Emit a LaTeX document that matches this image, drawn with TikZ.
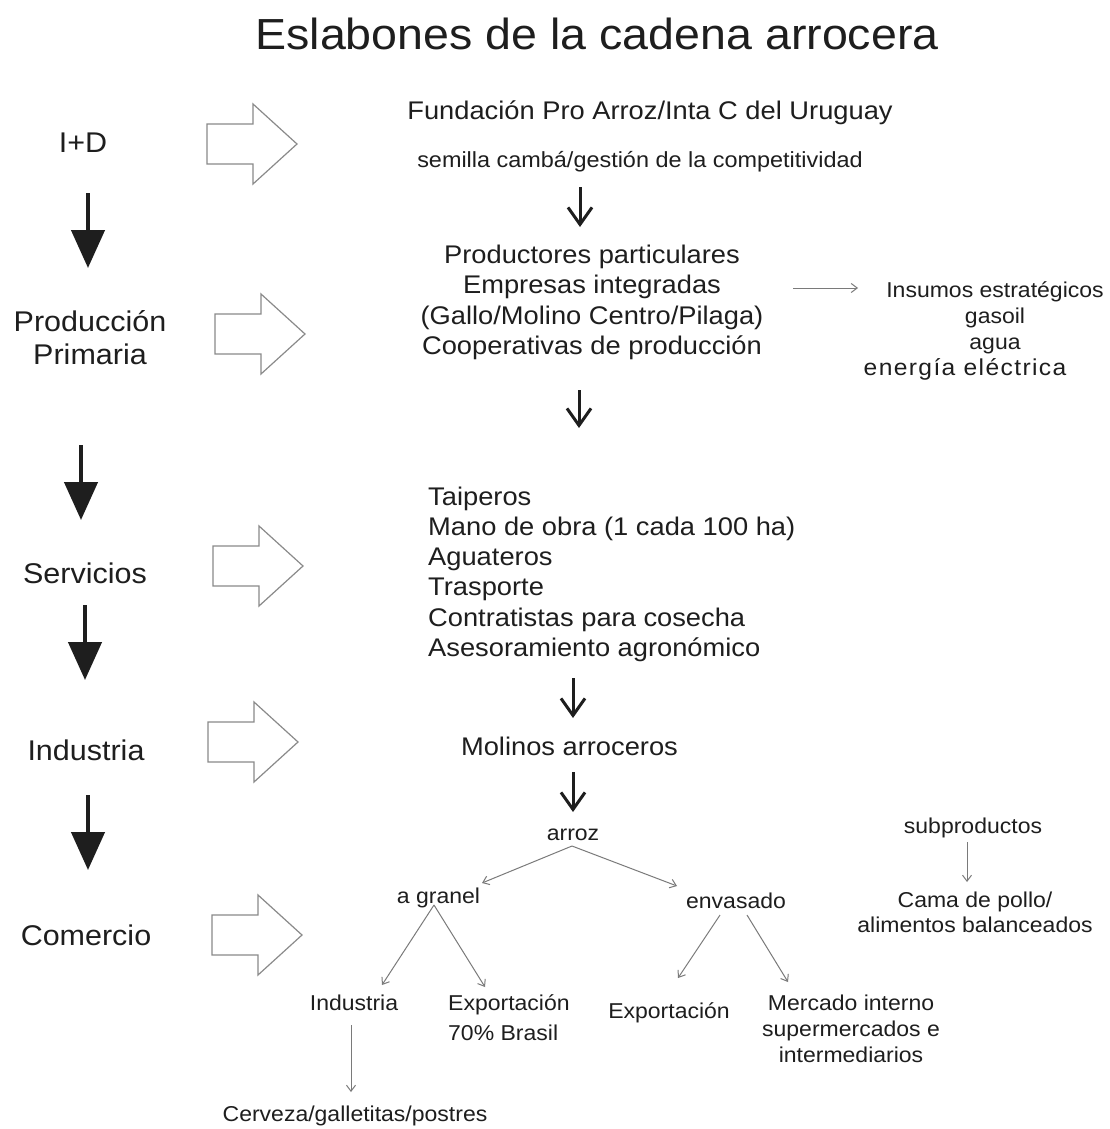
\documentclass[tikz,border=0pt]{standalone}
\usepackage{fontspec}
\setmainfont{Liberation Sans}[FakeStretch=1.07]
\usetikzlibrary{arrows.meta}
\definecolor{ink}{HTML}{1E1E1E}
\definecolor{thinc}{HTML}{7A7A7A}
\definecolor{outl}{HTML}{8A8A8A}
\begin{document}
\begin{tikzpicture}[x=1pt,y=-1pt,
  lbl/.style={inner sep=0, text=ink, font=\fontsize{28.5}{33}\selectfont},
  mid/.style={inner sep=0, text=ink, font=\fontsize{25.5}{30.5}\selectfont},
  sml/.style={inner sep=0, text=ink, font=\fontsize{21.5}{26}\selectfont},
  bigarr/.style={line width=4.5pt, draw=ink, -{Triangle[width=33pt,length=38pt]}},
  midarr/.style={line width=3pt, draw=ink, -{Straight Barb[width=24pt,length=17pt]}},
  thinarr/.style={line width=1pt, draw=thinc, -{Straight Barb[width=9pt,length=6pt]}},
  hollow/.style={draw=outl, line width=1.2pt, fill=white, line join=miter},
  blockarr/.pic={\draw[hollow] (0,-20) -- (46,-20) -- (46,-40) -- (90,0) -- (46,40) -- (46,20) -- (0,20) -- cycle;}
]
\fill[white] (0,0) rectangle (1109,1129);
\useasboundingbox (0,0) rectangle (1109,1129);

% title
\node[inner sep=0, text=ink, font=\fontsize{43.5}{50}\selectfont, anchor=base] (title) at (597,50) {Eslabones de la cadena arrocera};

% left column
\node[lbl,anchor=base] (id) at (83,153) {I+D};
\node[lbl,anchor=north,align=center] (pp) at (90,310) {Producción\\Primaria};
\node[lbl,anchor=base] (serv) at (85,583) {Servicios};
\node[lbl,anchor=base] (ind) at (86,760) {Industria};
\node[lbl,anchor=base] (com) at (86,945) {Comercio};

\coordinate (k1a) at (88,193);  \coordinate (k1b) at (88,268);
\coordinate (k2a) at (81,445);  \coordinate (k2b) at (81,520);
\coordinate (k3a) at (85,605);  \coordinate (k3b) at (85,680);
\coordinate (k4a) at (88,795);  \coordinate (k4b) at (88,870);
\draw[bigarr] (k1a) -- (k1b);
\draw[bigarr] (k2a) -- (k2b);
\draw[bigarr] (k3a) -- (k3b);
\draw[bigarr] (k4a) -- (k4b);

% hollow arrows
\pic at (207,144) {blockarr};
\pic at (215,334) {blockarr};
\pic at (213,566) {blockarr};
\pic at (208,742) {blockarr};
\pic at (212,935) {blockarr};

% middle column
\node[mid,anchor=base] (fund) at (650,120) {Fundación Pro Arroz/Inta C del Uruguay};
\node[inner sep=0, text=ink, font=\fontsize{21.9}{26}\selectfont, anchor=base] (sem) at (640,167) {semilla cambá/gestión de la competitividad};
\node[mid,anchor=north,align=center] (prod) at (592,244.7) {Productores particulares\\Empresas integradas\\(Gallo/Molino Centro/Pilaga)\\Cooperativas de producción};
\node[sml,anchor=north,align=center] (ins) at (995,281) {Insumos estratégicos\\gasoil\\agua\\\makebox[0pt][c]{\hspace*{-60pt}{\fontsize{23}{26}\selectfont\addfontfeature{LetterSpace=6}energía eléctrica}}};
\node[mid,anchor=north west,align=left,font=\fontsize{25.5}{30.2}\selectfont] (servl) at (428,486.7) {Taiperos\\Mano de obra (1 cada 100 ha)\\Aguateros\\Trasporte\\Contratistas para cosecha\\Asesoramiento agronómico};
\node[mid,anchor=base] (mol) at (569.5,755) {Molinos arroceros};

\coordinate (m1a) at (580,187); \coordinate (m1b) at (580,227);
\coordinate (m2a) at (579,390); \coordinate (m2b) at (579,428);
\coordinate (m3a) at (573,678); \coordinate (m3b) at (573,718);
\coordinate (m4a) at (573,772); \coordinate (m4b) at (573,812);
\draw[midarr] (m1a) -- (m1b);
\draw[midarr] (m2a) -- (m2b);
\draw[midarr] (m3a) -- (m3b);
\draw[midarr] (m4a) -- (m4b);

\coordinate (insa) at (793,288); \coordinate (insb) at (858,288);
\draw[thinarr] (insa) -- (insb);

% bottom tree
\node[sml,anchor=base] (arroz) at (573,840) {arroz};
\node[sml,anchor=base] (gran) at (438.5,903) {a granel};
\node[sml,anchor=base] (env) at (736,908) {envasado};
\node[sml,anchor=base] (indu) at (354,1010) {Industria};
\node[sml,anchor=north west,align=left,font=\fontsize{21.5}{30}\selectfont] (expa) at (448,994) {Exportación\\70\% Brasil};
\node[sml,anchor=base] (expb) at (669,1018) {Exportación};
\node[sml,anchor=north,align=center] (merc) at (851,994.6) {Mercado interno\\supermercados e\\intermediarios};
\node[sml,anchor=base] (cerv) at (355,1121) {Cerveza/galletitas/postres};
\node[sml,anchor=base] (subp) at (973,833) {subproductos};
\node[sml,anchor=north,align=center,font=\fontsize{21.5}{25}\selectfont] (cama) at (975,891.3) {Cama de pollo/\\alimentos balanceados};

\coordinate (ar0) at (572,846);
\coordinate (ar1) at (482,883);
\coordinate (ar2) at (677,886);
\coordinate (gr0) at (434,905);
\coordinate (gr1) at (382,985);
\coordinate (gr2) at (485,987);
\coordinate (en1) at (720,915);
\coordinate (en1b) at (678,978);
\coordinate (en2) at (747,915);
\coordinate (en2b) at (788,982);
\coordinate (iu0) at (351,1025);
\coordinate (iu1) at (351,1092);
\coordinate (sb0) at (967,842);
\coordinate (sb1) at (967,882);
\draw[thinarr] (ar0) -- (ar1);
\draw[thinarr] (ar0) -- (ar2);
\draw[thinarr] (gr0) -- (gr1);
\draw[thinarr] (gr0) -- (gr2);
\draw[thinarr] (en1) -- (en1b);
\draw[thinarr] (en2) -- (en2b);
\draw[thinarr] (iu0) -- (iu1);
\draw[thinarr] (sb0) -- (sb1);
\end{tikzpicture}
\end{document}
